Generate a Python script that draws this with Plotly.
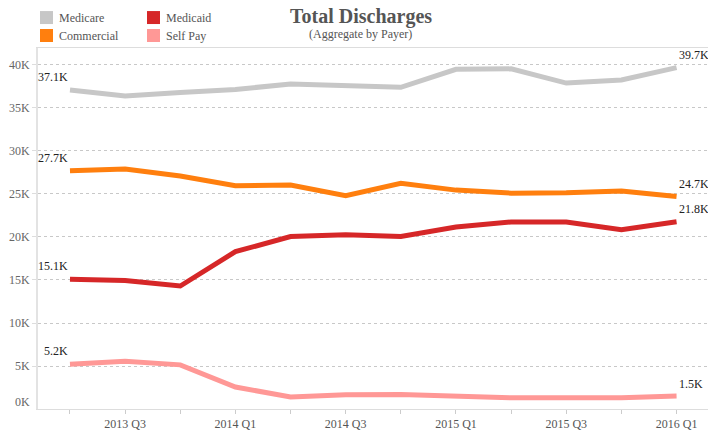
import plotly.graph_objects as go

quarters = ["2013 Q2", "2013 Q3", "2013 Q4", "2014 Q1", "2014 Q2", "2014 Q3",
            "2014 Q4", "2015 Q1", "2015 Q2", "2015 Q3", "2015 Q4", "2016 Q1"]
tick_labels = ["", "2013 Q3", "", "2014 Q1", "", "2014 Q3",
               "", "2015 Q1", "", "2015 Q3", "", "2016 Q1"]

medicare = [37100, 36400, 36800, 37150, 37800, 37550, 37400, 39500, 39550, 37900, 38250, 39700]
commercial = [27700, 27900, 27100, 25950, 26050, 24800, 26250, 25450, 25100, 25150, 25350, 24700]
medicaid = [15100, 14950, 14300, 18300, 20050, 20250, 20050, 21150, 21750, 21750, 20850, 21780]
self_pay = [5200, 5550, 5130, 2550, 1400, 1650, 1700, 1550, 1300, 1300, 1300, 1500]

series_names = ["Medicare", "Commercial", "Medicaid", "Self Pay"]
series_values = [medicare, commercial, medicaid, self_pay]
series_colors = ["#C7C7C7", "#FF7F0E", "#D62728", "#FF9896"]
# legend grid slot (column, row) for each series
legend_slots = [(0, 0), (0, 1), (1, 0), (1, 1)]

y_ticks = [5000, 10000, 15000, 20000, 25000, 30000, 35000, 40000]
y_tick_text = ["5K", "10K", "15K", "20K", "25K", "30K", "35K", "40K"]

SERIF = "Liberation Serif"

W, H = 708, 431
ML, MR, MT, MB = 38, 0, 48, 21.5
PW, PH = W - ML - MR, H - MT - MB


def px_x(px):
    return (px - ML) / PW


def px_y(py):
    return (H - MB - py) / PH


def fmt(v):
    return f"{v/1000:.1f}K"


fig = go.Figure()
annotations = []
for name, vals, color in zip(series_names, series_values, series_colors):
    fig.add_trace(go.Scatter(
        x=quarters, y=vals, mode="lines", name=name,
        line=dict(color=color, width=5),
        showlegend=False, hoverinfo="skip",
    ))
    # end labels anchored to the first and last data points
    annotations.append(dict(text=fmt(vals[0]), x=quarters[0], y=vals[0], xref="x", yref="y",
                            xanchor="right", yanchor="middle", xshift=0, yshift=13,
                            showarrow=False, font=dict(family=SERIF, size=12, color="#222")))
    annotations.append(dict(text=fmt(vals[-1]), x=quarters[-1], y=vals[-1], xref="x", yref="y",
                            xanchor="left", yanchor="middle", xshift=0, yshift=12.5,
                            showarrow=False, font=dict(family=SERIF, size=12, color="#222")))

shapes = []
for name, color, (col, row) in zip(series_names, series_colors, legend_slots):
    x0 = 40 + col * 107
    y0 = 11 + row * 18
    shapes.append(dict(type="rect", xref="paper", yref="paper",
                       x0=px_x(x0), x1=px_x(x0 + 13), y0=px_y(y0), y1=px_y(y0 + 13),
                       fillcolor=color, line=dict(width=0), layer="above"))
    annotations.append(dict(text=name, xref="paper", yref="paper",
                            x=px_x(x0 + 17), y=px_y(y0 + 6.5), xanchor="left", yanchor="middle",
                            showarrow=False, font=dict(family=SERIF, size=12, color="#555")))

annotations.append(dict(text="<b>Total Discharges</b>", xref="paper", yref="paper",
                        x=px_x(360.5), y=px_y(16), xanchor="center", yanchor="middle",
                        showarrow=False, font=dict(family=SERIF, size=20, color="#555")))
annotations.append(dict(text="(Aggregate by Payer)", xref="paper", yref="paper",
                        x=px_x(360.5), y=px_y(34), xanchor="center", yanchor="middle",
                        showarrow=False, font=dict(family=SERIF, size=12, color="#555")))
annotations.append(dict(text="0K", xref="paper", yref="y", x=0, y=0, xanchor="right",
                        yanchor="middle", xshift=-6, yshift=7, showarrow=False,
                        font=dict(family=SERIF, size=12, color="#666")))

fig.update_layout(
    width=W, height=H,
    margin=dict(l=ML, r=MR, t=MT, b=MB, autoexpand=False),
    paper_bgcolor="white", plot_bgcolor="white",
    font=dict(family=SERIF, size=12, color="#555"),
    showlegend=False,
    shapes=shapes,
    annotations=annotations,
)

fig.update_xaxes(
    type="category", range=[-0.58, 11.57],
    tickmode="array", tickvals=quarters, ticktext=tick_labels,
    ticks="outside", ticklen=4, tickcolor="#ccc",
    showline=True, linecolor="#ddd", linewidth=1, mirror=True,
    showgrid=False, zeroline=False,
    tickfont=dict(family=SERIF, size=12, color="#555"),
)
fig.update_yaxes(
    range=[0, 41975],
    tickmode="array", tickvals=y_ticks, ticktext=y_tick_text,
    ticks="outside", ticklen=4, tickcolor="#ddd",
    showline=True, linecolor="#e3e3e3", linewidth=2,
    showgrid=True, gridcolor="#c8c8c8", griddash="dot", gridwidth=1,
    zeroline=False,
    tickfont=dict(family=SERIF, size=12, color="#666"),
)

fig.write_html("out.html", config={"displayModeBar": False},
               post_script="document.body.style.margin='0px';")
